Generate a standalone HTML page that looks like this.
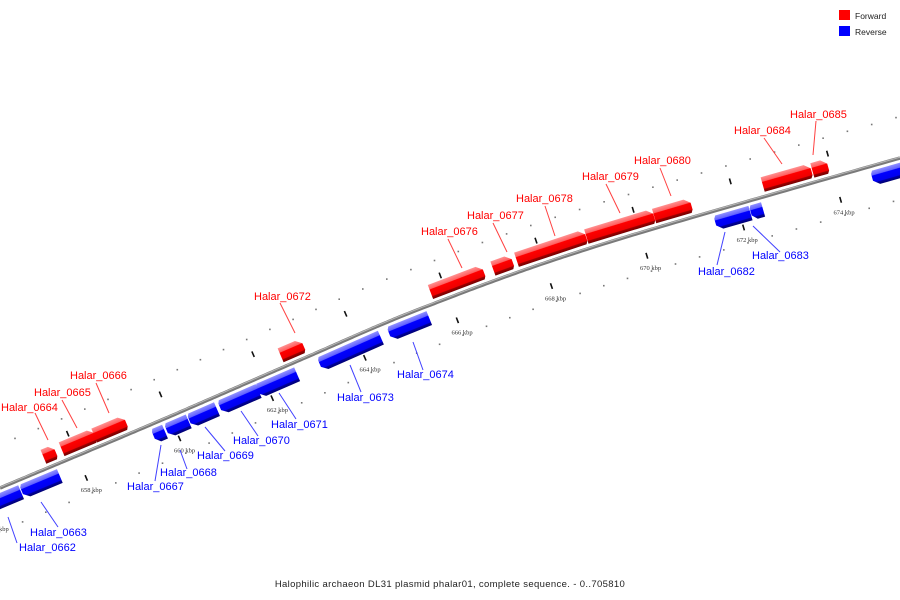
<!DOCTYPE html>
<html><head><meta charset="utf-8">
<style>
html,body{margin:0;padding:0;background:#fff;}
svg{display:block;font-family:"Liberation Sans",sans-serif;}
</style></head>
<body>
<svg id="chart" width="900" height="600" viewBox="0 0 900 600">
<defs>
<linearGradient id="gRed" x1="0" y1="0" x2="0" y2="1">
<stop offset="0" stop-color="#ff9090"/><stop offset="0.3" stop-color="#ff6060"/>
<stop offset="0.34" stop-color="#ff0000"/><stop offset="0.78" stop-color="#ee0000"/>
<stop offset="0.82" stop-color="#a00000"/><stop offset="1" stop-color="#700000"/>
</linearGradient>
<linearGradient id="gBlue" x1="0" y1="0" x2="0" y2="1">
<stop offset="0" stop-color="#9090ff"/><stop offset="0.3" stop-color="#6060ff"/>
<stop offset="0.34" stop-color="#0000ff"/><stop offset="0.78" stop-color="#0000ee"/>
<stop offset="0.82" stop-color="#0000a0"/><stop offset="1" stop-color="#000070"/>
</linearGradient>
</defs>
<g id="ticks"></g>
<g id="backbone"></g>
<g id="genes"></g>
<g id="labels"></g>
<g>
<rect x="839" y="10" width="11" height="10" fill="#ff0000"/>
<text x="855" y="19" font-size="8.5" fill="#222">Forward</text>
<rect x="839" y="26" width="11" height="10" fill="#0000ff"/>
<text x="855" y="35" font-size="8.5" fill="#222">Reverse</text>
</g>
<text x="450" y="587" text-anchor="middle" font-size="9.5" fill="#222" letter-spacing="0.35">Halophilic archaeon DL31 plasmid phalar01, complete sequence. - 0..705810</text>
</svg>
<script>
// ---- data ----
const geneNames = ["Halar_0662","Halar_0663","Halar_0664","Halar_0665","Halar_0666","Halar_0667","Halar_0668","Halar_0669","Halar_0670","Halar_0671","Halar_0672","Halar_0673","Halar_0674","Halar_0676","Halar_0677","Halar_0678","Halar_0679","Halar_0680","Halar_0682","Halar_0683","Halar_0684","Halar_0685",""];
const geneStarts = [655.9,656.72,657.38,657.77,658.47,659.55,659.83,660.32,660.98,661.79,662.49,663.13,664.64,665.70,667.02,667.51,668.96,670.36,671.49,672.22,672.60,673.62,674.72];
const geneEnds   = [656.70,657.53,657.64,658.49,659.15,659.79,660.30,660.91,661.81,662.64,662.98,664.45,665.49,666.83,667.43,668.96,670.36,671.13,672.21,672.47,673.60,673.94,676.3];
const geneStrands = [-1,-1,1,1,1,-1,-1,-1,-1,-1,1,-1,-1,1,1,1,1,1,-1,-1,1,1,-1];
const tickKbp = [656,658,660,662,664,666,668,670,672,674,676];
const tickLabels = ["656 kbp","658 kbp","660 kbp","662 kbp","664 kbp","666 kbp","668 kbp","670 kbp","672 kbp","674 kbp","676 kbp"];
// label positions (layout)
const labelPos = [[19,551,17,543,8,517],[30,536,58,527,41,502],[1,411,35,413,48,440],[34,396,62,400,77,428],[70,379,96,383,109,413],
[127,490,155,481,161,445],[160,476,187,469,180,450],[197,459,225,451,205,427],[233,444,258,436,241,411],[271,428,296,419,279,393],
[254,300,280,303,295,333],[337,401,361,392,350,365],[397,378,423,370,413,342],[421,235,448,239,462,268],[467,219,493,223,507,252],
[516,202,545,206,555,236],[582,180,606,184,620,213],[634,164,660,168,671,196],[698,275,717,265,725,232],[752,259,780,252,753,226],
[734,134,764,138,782,164],[790,118,816,121,813,155],null];

const NS="http://www.w3.org/2000/svg";
// ---- backbone geometry (layout) ----
const ctrl=[[-40,505],[0,488],[150,425],[300,360],[425,307],[600,245],[900,158],[940,148]];
const poly=[];
for(let i=1;i<ctrl.length-2;i++){
  const p0=ctrl[i-1],p1=ctrl[i],p2=ctrl[i+1],p3=ctrl[i+2];
  for(let t=0;t<1;t+=0.02){
    const t2=t*t,t3=t2*t;
    const f=(a,b,c,d)=>0.5*((2*b)+(-a+c)*t+(2*a-5*b+4*c-d)*t2+(-a+3*b-3*c+d)*t3);
    poly.push([f(p0[0],p1[0],p2[0],p3[0]),f(p0[1],p1[1],p2[1],p3[1])]);
  }
}
poly.push(ctrl[ctrl.length-2]);
const cum=[0];
for(let i=1;i<poly.length;i++){cum.push(cum[i-1]+Math.hypot(poly[i][0]-poly[i-1][0],poly[i][1]-poly[i-1][1]));}
function sAtX(x){for(let i=1;i<poly.length;i++){if(poly[i][0]>=x){const f=(x-poly[i-1][0])/(poly[i][0]-poly[i-1][0]);return cum[i-1]+f*(cum[i]-cum[i-1]);}}return cum[cum.length-1];}
const S0=sAtX(77), PXK=50.5;
function kToS(k){return S0+(k-658)*PXK;}
function pointAt(s){
  let i=1; while(i<cum.length-1&&cum[i]<s)i++;
  const f=(s-cum[i-1])/(cum[i]-cum[i-1]);
  const a=poly[i-1],b=poly[i];
  const dx=b[0]-a[0],dy=b[1]-a[1],L=Math.hypot(dx,dy);
  return {x:a[0]+f*dx,y:a[1]+f*dy,tx:dx/L,ty:dy/L,nx:-dy/L,ny:dx/L};
}
function at(k,off){const p=pointAt(kToS(k));return {x:p.x+p.nx*off,y:p.y+p.ny*off,p:p};}

// backbone path
const bb=document.getElementById('backbone');
let d="M"+poly.map(p=>p[0].toFixed(1)+","+p[1].toFixed(1)).join(" L");
const b1=document.createElementNS(NS,'path');


b1.setAttribute('d',d);b1.setAttribute('fill','none');b1.setAttribute('stroke','#7a7a7a');b1.setAttribute('stroke-width','3.5');
bb.appendChild(b1);
const b2=document.createElementNS(NS,'path');


b2.setAttribute('d',d);b2.setAttribute('fill','none');b2.setAttribute('stroke','#b8b8b8');b2.setAttribute('stroke-width','1');b2.setAttribute('transform','translate(0,-0.8)');
bb.appendChild(b2);

// ticks
const tg=document.getElementById('ticks');
for(let k=654;k<=678;k+=0.5){
  for(const off of [-40,40]){
    const q=at(k,off);
    if(q.x<-5||q.x>905)continue;
    const c=document.createElementNS(NS,'rect');
    
    
    c.setAttribute('x',(q.x-0.8).toFixed(1));c.setAttribute('y',(q.y-0.8).toFixed(1));c.setAttribute('width','1.6');c.setAttribute('height','1.6');c.setAttribute('fill','#777');
    tg.appendChild(c);
  }
}
tickKbp.forEach((k,i)=>{
  for(const off of [-24,24]){
    const a=at(k,off-3),b=at(k,off+3);
    const l=document.createElementNS(NS,'line');
    
    
    l.setAttribute('x1',a.x);l.setAttribute('y1',a.y);l.setAttribute('x2',b.x);l.setAttribute('y2',b.y);
    l.setAttribute('stroke','#111');l.setAttribute('stroke-width','1.6');
    tg.appendChild(l);
  }
  const q=at(k,37);
  const t=document.createElementNS(NS,'text');
  
  
  t.setAttribute('x',q.x.toFixed(1));t.setAttribute('y',(q.y+2).toFixed(1));
  t.setAttribute('text-anchor','middle');t.setAttribute('font-size','6.5');t.setAttribute('fill','#333');
  t.setAttribute('font-family','"Liberation Serif",serif');
  t.textContent=tickLabels[i];
  tg.appendChild(t);
});

// genes
const gg=document.getElementById('genes');
const H=15;
geneStarts.forEach((st,i)=>{
  const en=geneEnds[i],strand=geneStrands[i];
  const s1=kToS(st),s2=kToS(en),L=s2-s1;
  const off=strand>0?-12:12;
  const p=pointAt((s1+s2)/2);
  const cx=p.x+p.nx*off,cy=p.y+p.ny*off;
  const ang=Math.atan2(p.ty,p.tx)*180/Math.PI;
  const a=Math.min(6,L*0.4),h=H/2;
  let pts;
  if(strand>0) pts=[[-L/2,-h],[L/2-a,-h],[L/2,-h+5],[L/2,h-3],[L/2-a*0.3,h],[-L/2,h]];
  else pts=[[-L/2+a*0.3,-h],[L/2,-h],[L/2,h],[-L/2+a,h],[-L/2,h-5],[-L/2,-h+3]];
  const g=document.createElementNS(NS,'polygon');
  
  
  g.setAttribute('points',pts.map(q=>q[0].toFixed(1)+","+q[1].toFixed(1)).join(" "));
  g.setAttribute('fill',strand>0?'url(#gRed)':'url(#gBlue)');
  g.setAttribute('transform','translate('+cx.toFixed(1)+','+cy.toFixed(1)+') rotate('+ang.toFixed(2)+')');
  gg.appendChild(g);
});

// labels
const lg=document.getElementById('labels');
geneNames.forEach((n,i)=>{
  const lp=labelPos[i]; if(!lp||!n)return;
  const col=geneStrands[i]>0?'#ff0000':'#0000ff';
  const l=document.createElementNS(NS,'line');
  
  
  l.setAttribute('x1',lp[2]);l.setAttribute('y1',lp[3]);l.setAttribute('x2',lp[4]);l.setAttribute('y2',lp[5]);
  l.setAttribute('stroke',geneStrands[i]>0?'#ff4040':'#4040ff');l.setAttribute('stroke-width','1');
  lg.appendChild(l);
  const t=document.createElementNS(NS,'text');
  
  
  t.setAttribute('x',lp[0]);t.setAttribute('y',lp[1]);t.setAttribute('font-size','11');t.setAttribute('fill',col);
  t.textContent=n;
  lg.appendChild(t);
});
</script>
</body></html>
